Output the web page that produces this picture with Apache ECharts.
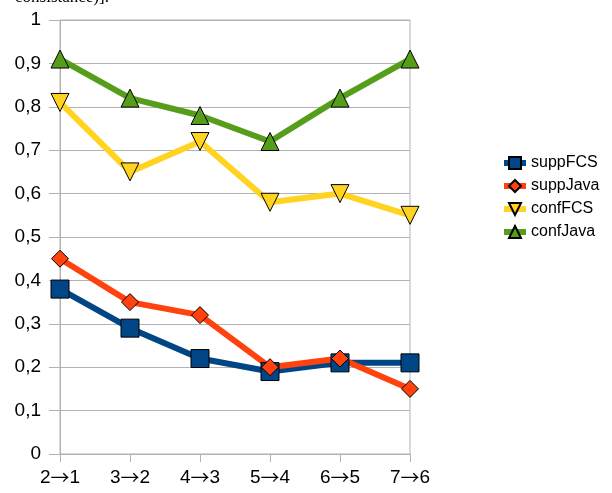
<!DOCTYPE html>
<html>
<head>
<meta charset="utf-8">
<script src="https://cdn.jsdelivr.net/npm/echarts@6/dist/echarts.min.js"></script>
<style>
  html, body { margin: 0; padding: 0; background: #fff; }
  #chart { width: 612px; height: 493px; }
</style>
</head>
<body>
<div id="chart"></div>
<script>
const categories = ["2\u21921", "3\u21922", "4\u21923", "5\u21924", "6\u21925", "7\u21926"];
const suppFCS = [0.38, 0.29, 0.22, 0.19, 0.21, 0.21];
const suppJava = [0.45, 0.35, 0.32, 0.20, 0.22, 0.15];
const confFCS = [0.81, 0.65, 0.72, 0.58, 0.60, 0.55];
const confJava = [0.91, 0.82, 0.78, 0.72, 0.82, 0.91];

const chart = echarts.init(document.getElementById("chart"));
const gridGrey = "#b3b3b3";

const mkSeries = (name, data, color, symbol, size, rotate) => ({
  name,
  type: "line",
  data,
  symbol,
  symbolSize: size,
  symbolRotate: rotate || 0,
  showAllSymbol: true,
  lineStyle: { color, width: 6 },
  itemStyle: { color, borderColor: "#000", borderWidth: 1 },
  emphasis: { disabled: true },
});

chart.setOption({
  animation: false,
  textStyle: { fontFamily: "Liberation Sans" },
  title: {
    text: "consistance)].",
    left: 10,
    top: -16,
    textStyle: { fontFamily: "Liberation Serif", fontSize: 17, fontWeight: "normal", color: "#000" },
  },
  grid: {
    left: 60, right: 202, top: 20, bottom: 39,
    show: true, borderColor: gridGrey, borderWidth: 1,
  },
  legend: {
    orient: "vertical",
    left: 496,
    top: 150,
    itemGap: 7,
    itemWidth: 22,
    itemHeight: 15,
    lineStyle: { width: 6 },
    textStyle: { fontSize: 16, color: "#000", fontFamily: "Liberation Sans" },
    data: ["suppFCS", "suppJava", "confFCS", "confJava"],
  },
  xAxis: {
    type: "category",
    data: categories,
    boundaryGap: false,
    axisLine: { lineStyle: { color: gridGrey } },
    axisTick: { show: true, length: 8, interval: 0, lineStyle: { color: gridGrey } },
    axisLabel: {
      interval: 0,
      hideOverlap: false,
      color: "#000",
      margin: 14,
      formatter: (v) => {
        const [a, b] = v.split("\u2192");
        return "{d|" + a + "}{ar|\u2192}{d|" + b + "}";
      },
      rich: {
        d: { fontSize: 19, fontFamily: "Liberation Sans", color: "#000" },
        ar: { fontSize: 19, fontFamily: "Noto Sans CJK JP", color: "#000" },
      },
    },
    splitLine: { show: false },
  },
  yAxis: {
    type: "value",
    min: 0,
    max: 1,
    interval: 0.1,
    axisLine: { show: true, lineStyle: { color: gridGrey } },
    axisTick: { show: true, length: 11, lineStyle: { color: gridGrey } },
    axisLabel: {
      fontSize: 19,
      color: "#000",
      margin: 19,
      formatter: (v) => (v === 0 || v === 1 ? String(v) : v.toFixed(1).replace(".", ",")),
    },
    splitLine: { lineStyle: { color: gridGrey } },
  },
  series: [
    mkSeries("suppFCS", suppFCS, "#004586", "rect", 18),
    mkSeries("suppJava", suppJava, "#ff420e", "diamond", 17),
    mkSeries("confFCS", confFCS, "#ffd320", "triangle", 18, 180),
    mkSeries("confJava", confJava, "#579d1c", "triangle", 18),
  ],
});
</script>
</body>
</html>
